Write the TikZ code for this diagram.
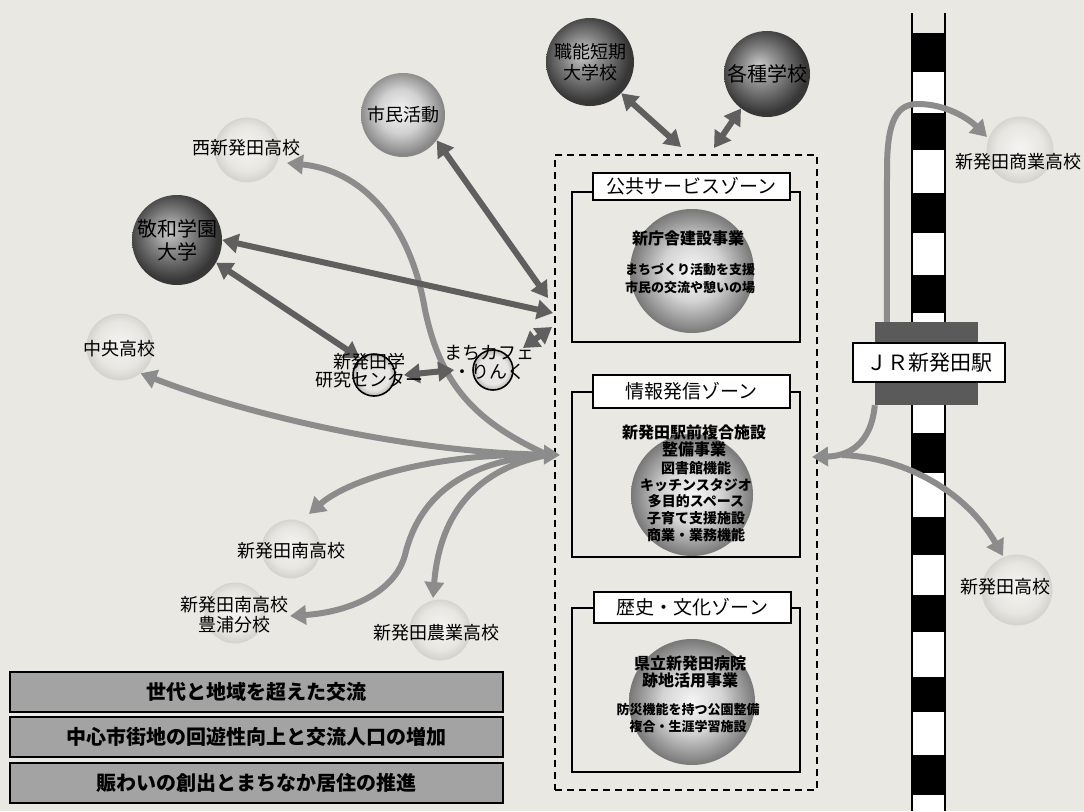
\documentclass[tikz,border=0pt]{standalone}
\usepackage{fontspec}
\setmainfont{Noto Sans CJK JP}
\usetikzlibrary{arrows.meta}
\definecolor{bg}{RGB}{234,232,226}
\definecolor{darkarr}{RGB}{95,95,95}
\definecolor{grayarr}{RGB}{140,140,140}
\definecolor{dA}{RGB}{205,205,205}
\definecolor{dB}{RGB}{140,140,140}
\definecolor{dC}{RGB}{55,55,55}
\definecolor{lA}{RGB}{242,242,242}
\definecolor{lB}{RGB}{210,210,210}
\definecolor{lC}{RGB}{135,135,135}
\definecolor{zA}{RGB}{246,246,246}
\definecolor{zB}{RGB}{212,212,212}
\definecolor{zC}{RGB}{120,120,120}
\definecolor{fA}{RGB}{245,244,241}
\definecolor{fB}{RGB}{232,230,225}
\definecolor{fC}{RGB}{214,212,207}
\definecolor{sA}{RGB}{232,231,228}
\definecolor{sC}{RGB}{185,184,180}
\definecolor{goal}{RGB}{163,163,163}
\definecolor{station}{RGB}{90,90,90}
\pgfdeclareradialshading{darksph}{\pgfpoint{-5bp}{5bp}}{color(0bp)=(dA); color(10bp)=(dB); color(25bp)=(dC); color(50bp)=(dC)}
\pgfdeclareradialshading{lightsph}{\pgfpoint{-2bp}{3bp}}{color(0bp)=(lA); color(13bp)=(lB); color(25bp)=(lC); color(50bp)=(lC)}
\pgfdeclareradialshading{zonesph}{\pgfpoint{0bp}{0bp}}{color(0bp)=(zA); color(12bp)=(zB); color(25bp)=(zC); color(50bp)=(zC)}
\pgfdeclareradialshading{faintsph}{\pgfpoint{0bp}{2bp}}{color(0bp)=(fA); color(18bp)=(fB); color(25bp)=(fC); color(50bp)=(fC)}
\pgfdeclareradialshading{smallsph}{\pgfpoint{0bp}{0bp}}{color(0bp)=(sA); color(18bp)=(sA); color(25bp)=(sC); color(50bp)=(sC)}
\begin{document}
\begin{tikzpicture}[x=1pt,y=-1pt,
  sph/.style={circle, inner sep=0pt, minimum size=#1},
  darkball/.style={sph=#1, shading=darksph},
  lightball/.style={sph=#1, shading=lightsph},
  zoneball/.style={sph=#1, shading=zonesph},
  faintball/.style={sph=#1, shading=faintsph, draw=fC, line width=0.8pt},
  smallball/.style={sph=#1, shading=smallsph, draw=black, line width=1.6pt},
  lbl/.style={inner sep=0pt, align=center, font=\fontsize{18}{21}\selectfont},
  blbl/.style={inner sep=0pt, align=center, font=\bfseries\fontsize{19}{22}\selectfont},
  ztext/.style={inner sep=0pt, align=center, font=\bfseries\fontsize{#1}{17}\selectfont},
  zframe/.style={draw=black, line width=2pt, minimum width=228pt, minimum height=#1, inner sep=0pt},
  ztitle/.style={draw=black, line width=2pt, fill=white, minimum width=197pt, minimum height=#1, inner sep=0pt, font=\fontsize{19}{22}\selectfont},
  goalbox/.style={draw=black, line width=2pt, fill=goal, minimum width=493pt, minimum height=40pt, inner sep=0pt, font=\bfseries\fontsize{20}{23}\selectfont},
  dbox/.style={draw=black, line width=2pt, dash pattern=on 7pt off 5pt, minimum width=262pt, minimum height=635pt, inner sep=0pt},
  tip/.style={Triangle[width=19pt,length=16pt]},
  darr/.style={draw=darkarr, line width=6pt, {Triangle[width=19pt,length=16pt]}-{Triangle[width=19pt,length=16pt]}},
  garr/.style={draw=grayarr, line width=6pt, -{Triangle[width=19pt,length=16pt]}},
  rail/.style={draw=black, line width=2.5pt},
  blk/.style={fill=black}
]
\fill[bg] (0,0) rectangle (1084,811);
\useasboundingbox (0,0) rectangle (1084,811);

% ---------- railway ----------
\fill[white] (912,33) rectangle (945,811);
\foreach \a/\b in {33/72,113/150,193/233,275/313,433/473,517/555,595/632,677/712,755/795}
  \fill[black] (912,\a) rectangle (945,\b);
\draw[rail] (912,13) -- (912,811);
\draw[rail] (945,13) -- (945,811);
\node[fill=station, minimum width=103pt, minimum height=83pt, inner sep=0pt] (station) at (926.5,363.5) {};
\node[draw=black, line width=2pt, fill=white, minimum width=152pt, minimum height=39pt, inner sep=0pt, font=\fontsize{21}{24}\selectfont] (stlabel) at (929,362.5) {ＪＲ新発田駅};

% ---------- dashed area and zones ----------
\node[dbox] (area) at (686,472.5) {};
\node[zframe=150pt] (f1) at (686,267) {};
\node[zframe=165pt] (f2) at (686,474.5) {};
\node[zframe=164pt] (f3) at (686,690) {};
\node[zoneball=124pt] (z1) at (692,271) {};
\node[zoneball=122pt] (z2) at (692,495) {};
\node[zoneball=126pt] (z3) at (692,702) {};
\node[ztitle=27pt] (t1) at (691.5,186.5) {公共サービスゾーン};
\node[ztitle=33pt] (t2) at (691.5,391.5) {情報発信ゾーン};
\node[ztitle=31pt] (t3) at (692.5,607.5) {歴史・文化ゾーン};
\node[ztext=16] (z1a) at (688,238) {新庁舎建設事業};
\node[ztext=13, font=\bfseries\fontsize{13}{18}\selectfont] (z1b) at (690,279) {まちづくり活動を支援\\市民の交流や憩いの場};
\node[ztext=16] (z2a) at (694,440.5) {新発田駅前複合施設\\整備事業};
\node[ztext=14, font=\bfseries\fontsize{14}{16.75}\selectfont] (z2b) at (696,501.5) {図書館機能\\キッチンスタジオ\\多目的スペース\\子育て支援施設\\商業・業務機能};
\node[ztext=16] (z3a) at (690,671.5) {県立新発田病院\\跡地活用事業};
\node[ztext=13, font=\bfseries\fontsize{13}{17}\selectfont] (z3b) at (688,718.5) {防災機能を持つ公園整備\\複合・生涯学習施設};

% ---------- circles ----------
\node[darkball=88pt] (shoku) at (590,62) {};
\node[darkball=86pt] (kaku) at (767,74) {};
\node[lightball=84pt] (shimin) at (403,115) {};
\node[darkball=90pt] (keiwa) at (177,240) {};
\node[faintball=64pt] (nishi) at (247,150) {};
\node[faintball=66pt] (chuo) at (120,347) {};
\node[faintball=58pt] (minami) at (291,549) {};
\node[faintball=60pt] (toyoura) at (235,613) {};
\node[faintball=60pt] (nogyo) at (440,630) {};
\node[faintball=66pt] (shogyo) at (1020,150) {};
\node[faintball=70pt] (shibata) at (1017,590) {};
\node[smallball=42pt] (kenkyu) at (374,375) {};
\node[smallball=40pt] (cafe) at (493,370) {};

% ---------- coordinates ----------
\coordinate (bx1) at (548,298);
\coordinate (bx2) at (553,313);
\coordinate (bx3) at (552,327);
\coordinate (bxTop1) at (681,147);
\coordinate (bxTop2) at (714,148);
\coordinate (cafeNE) at (523,348);
\coordinate (hub) at (560,455);
\coordinate (boxR) at (812,457);
\coordinate (fork) at (842,455);
\coordinate (nishiTip) at (287,163);
\coordinate (minamiTip) at (309,514);
\coordinate (toyouraTip) at (290,616);
\coordinate (nogyoTip) at (433,598);
\coordinate (shibataTip) at (1003,556);
\coordinate (shogyoTip) at (987,137);

% ---------- gray arrows ----------
\draw[garr] ([xshift=-12pt]hub) .. controls (470,420) and (440,380) .. (425,310)
   .. controls (410,220) and (360,170) .. (nishiTip);
\draw[garr, {Triangle[width=19pt,length=16pt]}-{Triangle[width=19pt,length=16pt]}] (chuo.-52) .. controls (240,412) and (400,452) .. (hub);
\draw[garr] ([xshift=-12pt]hub) .. controls (440,452) and (350,478) .. (minamiTip);
\draw[garr] ([xshift=-12pt]hub) .. controls (470,460) and (420,492) .. (405,555)
   .. controls (395,592) and (350,612) .. (toyouraTip);
\draw[garr] ([xshift=-12pt]hub) .. controls (480,468) and (440,510) .. (nogyoTip);
\draw[garr] ([xshift=12pt]station.north west) -- (887,170) .. controls (887,120) and (897,104) .. (918,104)
   .. controls (945,104) and (968,118) .. (shogyoTip);
\draw[garr] (station.south west) .. controls (871,445) and (848,456) .. (boxR);
\draw[garr] (fork) .. controls (910,458) and (968,495) .. (shibataTip);

% ---------- dark arrows ----------
\draw[darr] (shoku.-45) -- (bxTop1);
\draw[darr] (kaku.-127) -- (bxTop2);
\draw[darr] (shimin.-37) -- (bx1);
\draw[darr] (keiwa.0) -- (bx2);
\draw[darr] (keiwa.-30) -- (kenkyu.130);
\draw[darr] (cafeNE) -- (bx3);
\draw[darr] ([xshift=8pt]kenkyu.east) -- ([xshift=-18pt]cafe.west);

% ---------- labels ----------
\node[lbl] (shokuT) at (shoku) {職能短期\\大学校};
\node[lbl, font=\fontsize{20}{23}\selectfont] (kakuT) at (kaku) {各種学校};
\node[lbl] (shiminT) at (shimin) {市民活動};
\node[lbl, font=\fontsize{20}{23}\selectfont] (keiwaT) at (keiwa) {敬和学園\\大学};
\node[lbl] (nishiT) at (246,148) {西新発田高校};
\node[lbl] (chuoT) at (119,349) {中央高校};
\node[lbl] (minamiT) at (291,551) {新発田南高校};
\node[lbl, font=\fontsize{18}{20}\selectfont] (toyouraT) at (234,615) {新発田南高校\\豊浦分校};
\node[lbl] (nogyoT) at (436,633) {新発田農業高校};
\node[lbl] (shogyoT) at (1018,162) {新発田商業高校};
\node[lbl] (shibataT) at (1005,587) {新発田高校};
\node[lbl, font=\fontsize{18}{18}\selectfont] (kenkyuT) at (369,371) {新発田学\\研究センター};
\node[lbl, font=\fontsize{18}{19}\selectfont] (cafeT) at (489,362) {まちカフェ\\・りんく};

% ---------- goal boxes ----------
\node[goalbox] (g1) at (256.5,692) {世代と地域を超えた交流};
\node[goalbox] (g2) at (256.5,737) {中心市街地の回遊性向上と交流人口の増加};
\node[goalbox] (g3) at (256.5,783) {賑わいの創出とまちなか居住の推進};
\end{tikzpicture}
\end{document}
